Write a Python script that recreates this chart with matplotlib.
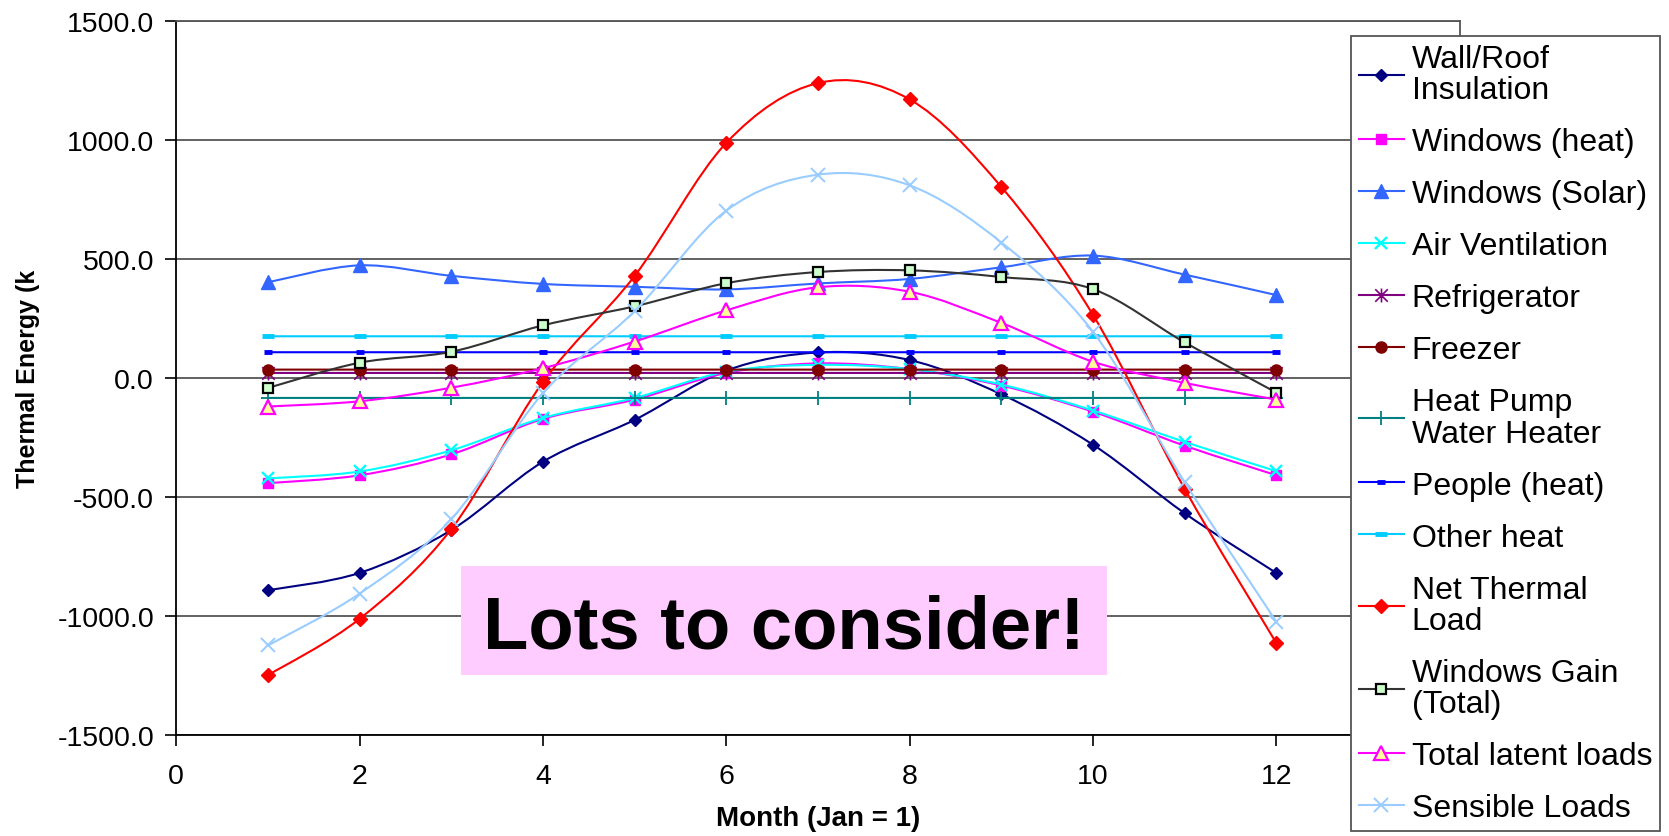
import numpy as np
import matplotlib
matplotlib.use('Agg')
import matplotlib.pyplot as plt
from matplotlib.path import Path
from matplotlib.patches import PathPatch, Rectangle
from matplotlib.lines import Line2D

plt.rcParams['font.family'] = ['Liberation Sans', 'DejaVu Sans']
plt.rcParams['axes.unicode_minus'] = False

months = [1, 2, 3, 4, 5, 6, 7, 8, 9, 10, 11, 12]

wall_roof = [-893, -820, -640, -353, -177, 30, 106, 74, -70, -282, -570, -821]
windows_heat = [-443, -410, -322, -173, -92, 20, 60, 36, -33, -143, -286, -410]
windows_solar = [401, 472, 428, 394, 382, 371, 396, 415, 464, 513, 433, 347]
air_ventilation = [-423, -394, -305, -169, -85, 25, 54, 36, -29, -138, -270, -393]
refrigerator = [20, 20, 20, 20, 20, 20, 20, 20, 20, 20, 20, 20]
freezer = [34, 34, 34, 34, 34, 34, 34, 34, 34, 34, 34, 34]
heat_pump = [-85, -85, -85, -85, -85, -85, -85, -85, -85, -85, -85, -85]
people = [107, 107, 107, 107, 107, 107, 107, 107, 107, 107, 107, 107]
other_heat = [174, 174, 174, 174, 174, 174, 174, 174, 174, 174, 174, 174]
net_load = [-1250, -1013, -636, -18, 428, 987, 1238, 1169, 801, 263, -468, -1116]
windows_gain = [-43, 63, 109, 220, 300, 397, 444, 451, 423, 372, 148, -63]
latent_loads = [-121, -99, -42, 40, 152, 283, 380, 361, 230, 67, -22, -92]
sensible_loads = [-1125, -907, -594, -65, 280, 702, 853, 808, 568, 192, -440, -1026]

# asterisk marker like Excel's "star"
star = Path([(-0.45, -0.45), (0.45, 0.45), (-0.45, 0.45), (0.45, -0.45), (0, -0.5), (0, 0.5)],
            [Path.MOVETO, Path.LINETO, Path.MOVETO, Path.LINETO, Path.MOVETO, Path.LINETO])

# label, values, line colour, marker style
series = [
    ('Wall/Roof\nInsulation', wall_roof, '#000080',
     dict(marker='D', ms=6.5, mfc='#000080', mec='#000080')),
    ('Windows (heat)', windows_heat, '#FF00FF',
     dict(marker='s', ms=7, mfc='#FF00FF', mec='#FF00FF')),
    ('Windows (Solar)', windows_solar, '#3366FF',
     dict(marker='^', ms=10, mfc='#3366FF', mec='#3366FF')),
    ('Air Ventilation', air_ventilation, '#00FFFF',
     dict(marker='x', ms=9, mew=1.7, mec='#00FFFF')),
    ('Refrigerator', refrigerator, '#800080',
     dict(marker=star, ms=10, mew=1.2, mfc='none', mec='#800080')),
    ('Freezer', freezer, '#800000',
     dict(marker='o', ms=8, mfc='#800000', mec='#800000')),
    ('Heat Pump\nWater Heater', heat_pump, '#008080',
     dict(marker='+', ms=10, mew=1.3, mec='#008080')),
    ('People (heat)', people, '#0000FF',
     dict(marker='_', ms=6, mew=3.5, mec='#0000FF')),
    ('Other heat', other_heat, '#00CCFF',
     dict(marker='_', ms=8, mew=3.5, mec='#00CCFF')),
    ('Net Thermal\nLoad', net_load, '#FF0000',
     dict(marker='D', ms=7.5, mfc='#FF0000', mec='#FF0000')),
    ('Windows Gain\n(Total)', windows_gain, '#333333',
     dict(marker='s', ms=7.5, mew=1.6, mfc='#CCFFCC', mec='#000000')),
    ('Total latent loads', latent_loads, '#FF00FF',
     dict(marker='^', ms=10, mew=1.6, mfc='#FFFF99', mec='#FF00FF')),
    ('Sensible Loads', sensible_loads, '#99CCFF',
     dict(marker='x', ms=10, mew=1.4, mec='#99CCFF')),
]


def smooth_path(x, y):
    # Excel-style smoothed line: cubic Bezier through every point
    pts = np.column_stack([np.asarray(x, float), np.asarray(y, float)])
    n = len(pts)
    verts = [pts[0]]
    codes = [Path.MOVETO]
    for i in range(n - 1):
        p0 = pts[max(i - 1, 0)]
        p1 = pts[i]
        p2 = pts[i + 1]
        p3 = pts[min(i + 2, n - 1)]
        verts += [p1 + (p2 - p0) / 6, p2 - (p3 - p1) / 6, p2]
        codes += [Path.CURVE4] * 3
    return Path(verts, codes)


fig = plt.figure(figsize=(16.69, 8.37), dpi=100)
ax = fig.add_axes([0.1056, 0.1210, 0.7691, 0.8531])

handles = []
for i, (label, values, color, mk) in enumerate(series):
    ax.add_patch(PathPatch(smooth_path(months, values), fill=False,
                           edgecolor=color, lw=1.5, zorder=3 + i * 0.1))
    ax.plot(months, values, ls='none', zorder=3.05 + i * 0.1, **mk)
    handles.append(Line2D([], [], color=color, lw=1.5, **mk))

ax.set_xlim(0, 14)
ax.set_ylim(-1500, 1500)
ax.set_xticks(range(0, 13, 2))
ax.set_yticks(range(-1500, 1501, 500))
ax.yaxis.set_major_formatter(matplotlib.ticker.FormatStrFormatter('%.1f'))
ax.yaxis.grid(True, color='#555555', lw=1.3)
ax.set_axisbelow(True)
ax.tick_params(axis='both', direction='out', length=8, width=1.2, labelsize=20.5)
ax.tick_params(axis='y', pad=8)
ax.tick_params(axis='x', pad=12)
for side in ['left', 'bottom']:
    ax.spines[side].set_color('black')
    ax.spines[side].set_linewidth(1.3)
for side in ['top', 'right']:
    ax.spines[side].set_color('#555555')
    ax.spines[side].set_linewidth(1.3)

ax.set_xlabel('Month (Jan = 1)', fontsize=20, fontweight='bold')
ax.xaxis.set_label_coords(0.5, -0.098)
ax.set_ylabel('Thermal Energy (k', fontsize=18, fontweight='bold')
ax.yaxis.set_label_coords(-0.106, 0.5)

leg = ax.legend(handles, [s[0] for s in series], loc='upper left',
                bbox_to_anchor=(0.8095, 0.9558), bbox_transform=fig.transFigure,
                borderaxespad=0, fontsize=23, frameon=True, fancybox=False,
                edgecolor='#555555', framealpha=1, handlelength=1.4,
                handletextpad=0.25, borderpad=0.25, labelspacing=0.69)
leg.get_frame().set_linewidth(1.3)
leg.set_zorder(10)
for t in leg.get_texts():
    t.set_linespacing(1.05)

# callout box
fig.patches.append(Rectangle((0.2762, 0.1924), 0.3871, 0.1302, transform=fig.transFigure,
                             facecolor='#FFCCFF', edgecolor='none', zorder=8))
fig.text(0.4697, 0.2490, 'Lots to consider!', fontsize=53.5, fontweight='bold',
         ha='center', va='center', zorder=9)

fig.savefig('out.png', dpi=100)
